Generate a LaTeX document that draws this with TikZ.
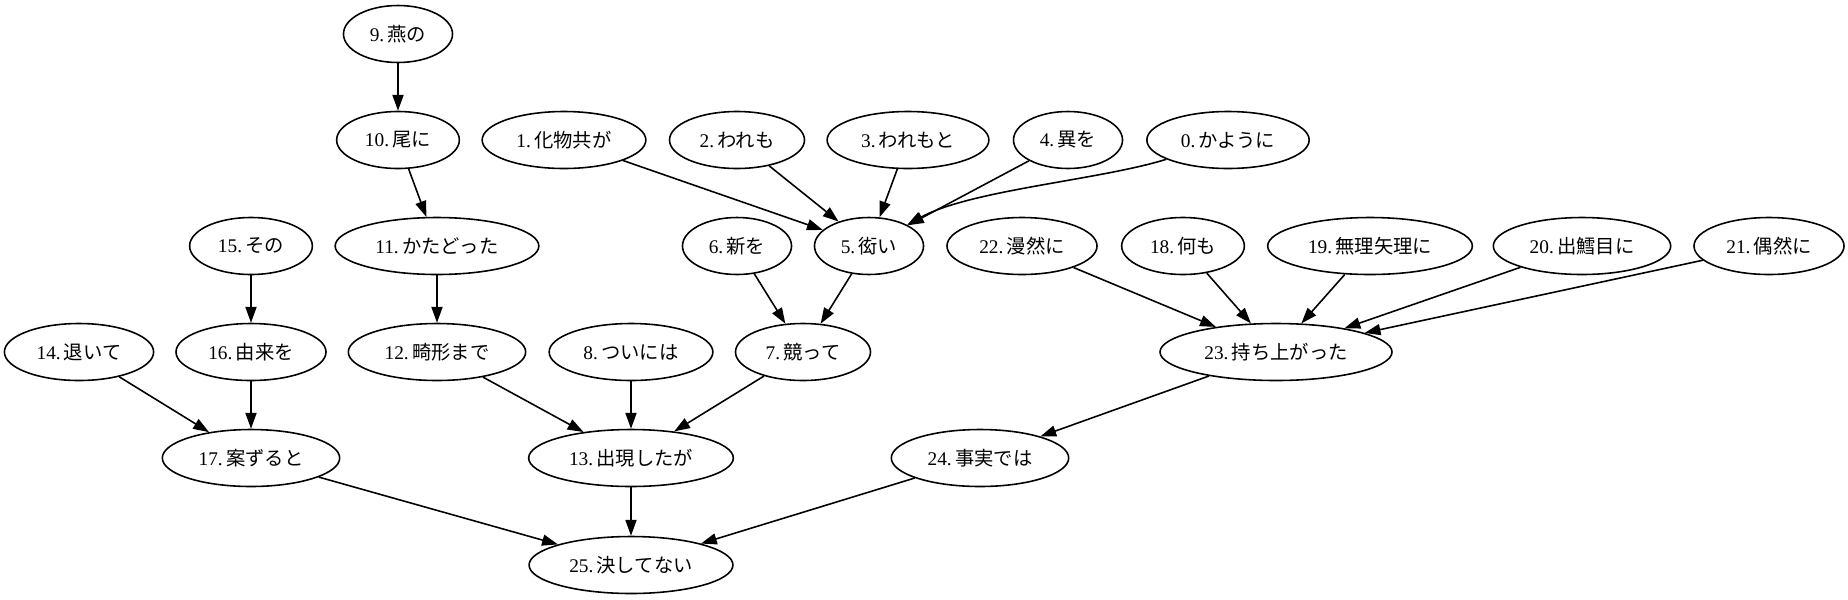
\documentclass[tikz,border=0pt]{standalone}
\usepackage{fontspec}
\setmainfont{Liberation Serif}
\newfontfamily\jp{Noto Sans CJK JP}
\usetikzlibrary{shapes.geometric,arrows.meta}
\tikzset{
  word/.style={ellipse, draw, line width=0.9pt, font=\fontsize{11}{13}\selectfont,
    inner xsep=5.9pt, inner ysep=2pt, minimum height=1.14cm},
  dep/.style={line width=0.9pt, -{Triangle[length=9pt,width=6.3pt]}}
}
\begin{document}
\begin{tikzpicture}[x=0.02cm,y=-0.02cm]
   \useasboundingbox (0,0) rectangle (1848,599);
   \node[word] (n9)  at (398,34)   {9.\,\jp 燕の};
   \node[word] (n10) at (398,140)  {10.\,\jp 尾に};
   \node[word] (n1)  at (564,140)  {1.\,\jp 化物共が};
   \node[word] (n2)  at (737,140)  {2.\,\jp われも};
   \node[word] (n3)  at (908,140)  {3.\,\jp われもと};
   \node[word] (n4)  at (1068,140) {4.\,\jp 異を};
   \node[word] (n0)  at (1228,140) {0.\,\jp かように};
   \node[word] (n15) at (251,246)  {15.\,\jp その};
   \node[word] (n11) at (437,246)  {11.\,\jp かたどった};
   \node[word] (n6)  at (737,246)  {6.\,\jp 新を};
   \node[word] (n5)  at (869,246)  {5.\,\jp 衒い};
   \node[word] (n22) at (1022,246) {22.\,\jp 漫然に};
   \node[word] (n18) at (1183,246) {18.\,\jp 何も};
   \node[word] (n19) at (1370,246) {19.\,\jp 無理矢理に};
   \node[word] (n20) at (1582,246) {20.\,\jp 出鱈目に};
   \node[word] (n21) at (1769,246) {21.\,\jp 偶然に};
   \node[word] (n14) at (79,352)   {14.\,\jp 退いて};
   \node[word] (n16) at (251,352)  {16.\,\jp 由来を};
   \node[word] (n12) at (437,352)  {12.\,\jp 畸形まで};
   \node[word] (n8)  at (631,352)  {8.\,\jp ついには};
   \node[word] (n7)  at (803,352)  {7.\,\jp 競って};
   \node[word] (n23) at (1276,352) {23.\,\jp 持ち上がった};
   \node[word] (n17) at (251,458)  {17.\,\jp 案ずると};
   \node[word] (n13) at (631,458)  {13.\,\jp 出現したが};
   \node[word] (n24) at (980,458)  {24.\,\jp 事実では};
   \node[word] (n25) at (631,565)  {25.\,\jp 決してない};
   \draw[dep] (n9) -- (n10);
   \draw[dep] (n10) -- (n11);
   \draw[dep] (n11) -- (n12);
   \draw[dep] (n12) -- (n13);
   \draw[dep] (n1) -- (n5);
   \draw[dep] (n2) -- (n5);
   \draw[dep] (n3) -- (n5);
   \draw[dep] (n4) -- (n5);
   \draw[dep] (n0) .. controls (1100,180) and (970,190) .. (n5);
   \draw[dep] (n6) -- (n7);
   \draw[dep] (n5) -- (n7);
   \draw[dep] (n7) -- (n13);
   \draw[dep] (n8) -- (n13);
   \draw[dep] (n15) -- (n16);
   \draw[dep] (n14) -- (n17);
   \draw[dep] (n16) -- (n17);
   \draw[dep] (n17) -- (n25);
   \draw[dep] (n13) -- (n25);
   \draw[dep] (n24) -- (n25);
   \draw[dep] (n22) -- (n23);
   \draw[dep] (n18) -- (n23);
   \draw[dep] (n19) -- (n23);
   \draw[dep] (n20) -- (n23);
   \draw[dep] (n21) -- (n23);
   \draw[dep] (n23) -- (n24);
\end{tikzpicture}
\end{document}
